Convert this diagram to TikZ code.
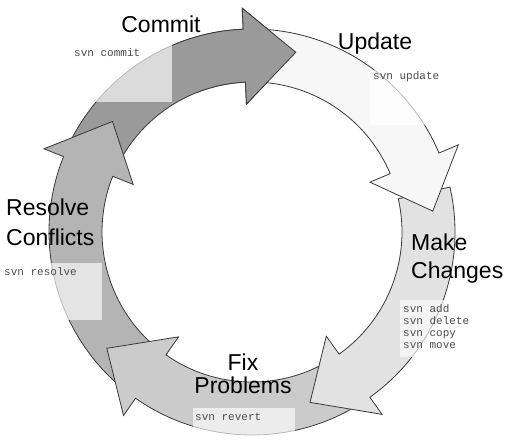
\documentclass[tikz,border=0pt]{standalone}
\usepackage{fontspec}
\setmainfont{Liberation Sans}
\newfontfamily\monofont{Liberation Mono}
\begin{document}
\begin{tikzpicture}[x=1pt,y=1pt,
  arrowshape/.style={draw=black!78, line width=0.8pt, line join=miter},
  titletext/.style={font=\fontsize{23}{28}\selectfont, inner sep=0pt},
  cmdtext/.style={font=\monofont\fontsize{11}{12}\selectfont, text=black!70, inner sep=0pt, align=left},
  cmdbox/.style={fill=white, fill opacity=0.65, draw=none}]
\definecolor{commitc}{HTML}{9A9A9A}
\definecolor{updatec}{HTML}{F7F7F7}
\definecolor{makec}{HTML}{E2E2E2}
\definecolor{fixc}{HTML}{CBCBCB}
\definecolor{resolvec}{HTML}{B4B4B4}
\path[use as bounding box] (0,0) rectangle (510,442);
% #1 fill, #2 tail angle, #3 head base angle, #4 tip angle, #5 tip radius
\newcommand\cyclearrow[5]{%
  \filldraw[arrowshape, fill=#1] (#2:203pt) arc[start angle=#2, end angle=#3, radius=203pt]
    -- (#3:224pt) -- (#4:#5pt) -- (#3:128pt) -- (#3:150pt)
    arc[start angle=#3, end angle=#2, radius=150pt] -- cycle;}
\begin{scope}[shift={(252pt,210pt)}]
  \cyclearrow{commitc}{155}{92.5}{76.3}{185}
  \cyclearrow{resolvec}{231}{158.2}{141.6}{178}
  \cyclearrow{fixc}{302}{235}{218.7}{186}
  \cyclearrow{makec}{12.8}{-54.5}{-71.2}{180}
  \cyclearrow{updatec}{89}{22.9}{6.6}{182}
  \begin{scope}
    \clip (0,0) -- (68:320pt) -- (112:320pt) -- cycle;
    \cyclearrow{commitc}{155}{92.5}{76.3}{185}
  \end{scope}
\end{scope}
% command boxes
\fill[cmdbox] (72,340) rectangle (172,400);
\fill[cmdbox] (370,317) rectangle (470,372);
\fill[cmdbox] (2,122) rectangle (102,179);
\fill[cmdbox] (400,85) rectangle (498,142);
\fill[cmdbox] (193,0) rectangle (295,34);
% titles
\node[titletext, anchor=base] (commit) at (161,409) {Commit};
\node[titletext, anchor=base] (update) at (375,392) {Update};
\node[titletext, anchor=base west] (resolve1) at (6,226) {Resolve};
\node[titletext, anchor=base west] (resolve2) at (6,197) {Conflicts};
\node[titletext, anchor=base west] (make1) at (411,192) {Make};
\node[titletext, anchor=base west] (make2) at (411,164) {Changes};
\node[titletext, anchor=base] (fix1) at (243,72) {Fix};
\node[titletext, anchor=base] (fix2) at (243,49) {Problems};
% commands
\node[cmdtext, anchor=base west] (svncommit) at (74,385) {svn commit};
\node[cmdtext, anchor=base west] (svnupdate) at (373,362) {svn update};
\node[cmdtext, anchor=base west] (svnresolve) at (4,167) {svn resolve};
\node[cmdtext, anchor=base west] (svnadd) at (403,130) {svn add};
\node[cmdtext, anchor=base west] (svndelete) at (403,118) {svn delete};
\node[cmdtext, anchor=base west] (svncopy) at (403,106) {svn copy};
\node[cmdtext, anchor=base west] (svnmove) at (403,94) {svn move};
\node[cmdtext, anchor=base west] (svnrevert) at (195,22) {svn revert};
\end{tikzpicture}
\end{document}
